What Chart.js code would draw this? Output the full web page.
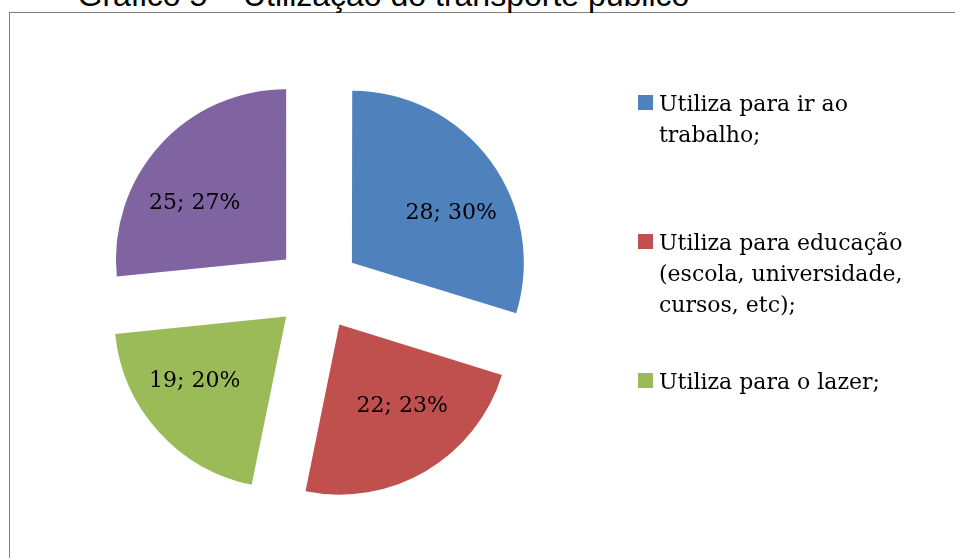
<!DOCTYPE html>
<html>
<head>
<meta charset="utf-8">
<script src="https://cdn.jsdelivr.net/npm/chart.js"></script>
<style>
    body { margin: 0; background: #fff; }
    #wrap { position: relative; width: 955px; height: 558px; overflow: hidden; }
    #frame { position: absolute; left: 9px; top: 12px; right: -5px; bottom: -5px; border-left: 1px solid #808080; border-top: 1px solid #808080; }
    #title { position: absolute; left: 77.5px; top: -20.6px; font: 32px/32px "Liberation Sans", Arial, sans-serif; color: #000; white-space: nowrap; }
    #legend { position: absolute; left: 638px; top: 88px; font: 22px/31px "DejaVu Serif", serif; color: #000; }
    .item { position: relative; height: 139px; width: 295px; }
    .box { position: absolute; left: 0; top: 6.5px; width: 15px; height: 15px; }
    .txt { position: absolute; left: 21px; top: 0; width: 270px; }
    canvas { position: absolute; left: 0; top: 0; }
</style>
</head>
<body>
<div id="wrap">
    <div id="frame"></div>
    <div id="title">Gráfico 5 – Utilização do transporte público</div>
    <canvas id="pieChart" width="955" height="558"></canvas>
    <div id="legend"></div>
</div>

<script>
// dados
const categories = [
    'Utiliza para ir ao trabalho;',
    'Utiliza para educação (escola, universidade, cursos, etc);',
    'Utiliza para o lazer;',
    ''  // 4a fatia sem legenda visível
];
const values = [28, 22, 19, 25];
const colors = ['#4F81BD', '#C0504D', '#9BBB59', '#8064A2'];

const total = values.reduce((s, v) => s + v, 0);

// rótulos "valor; %" dentro de cada fatia
const sliceLabels = {
    id: 'sliceLabels',
    afterDatasetsDraw(chart) {
        const ctx = chart.ctx;
        const meta = chart.getDatasetMeta(0);
        ctx.save();
        ctx.font = '22px "DejaVu Serif", serif';
        ctx.fillStyle = '#000';
        ctx.textAlign = 'center';
        ctx.textBaseline = 'middle';
        meta.data.forEach((arc, i) => {
            const p = arc.getProps(['x', 'y', 'startAngle', 'endAngle', 'outerRadius'], true);
            const mid = (p.startAngle + p.endAngle) / 2;
            const shift = (arc.options.offset || 0) / 4;  // deslocamento real da fatia
            const cx = p.x + Math.cos(mid) * shift;
            const cy = p.y + Math.sin(mid) * shift;
            const x = cx + Math.cos(mid) * p.outerRadius * 0.725;
            const y = cy + Math.sin(mid) * p.outerRadius * 0.53 + 4;
            const pct = Math.round(values[i] / total * 100);
            ctx.fillText(values[i] + '; ' + pct + '%', x, y);
        });
        ctx.restore();
    }
};

const chart = new Chart(document.getElementById('pieChart').getContext('2d'), {
    type: 'pie',
    data: {
        labels: categories,
        datasets: [{
            data: values,
            backgroundColor: colors,
            borderWidth: 0,
            offset: 170,
            hoverOffset: 0
        }]
    },
    options: {
        responsive: false,
        animation: false,
        events: [],
        layout: { padding: { left: 62.7, top: 32.9, right: 382.3, bottom: 15.1 } },
        plugins: {
            legend: { display: false },
            title: { display: false },
            tooltip: { enabled: false }
        }
    },
    plugins: [sliceLabels]
});

// legenda em HTML, montada a partir dos dados do gráfico
const legend = document.getElementById('legend');
chart.data.labels.forEach((label, i) => {
    if (!label) return;
    const item = document.createElement('div');
    item.className = 'item';
    item.innerHTML = `<div class="box" style="background:${colors[i]}"></div><div class="txt">${label}</div>`;
    legend.appendChild(item);
});
</script>
</body>
</html>
